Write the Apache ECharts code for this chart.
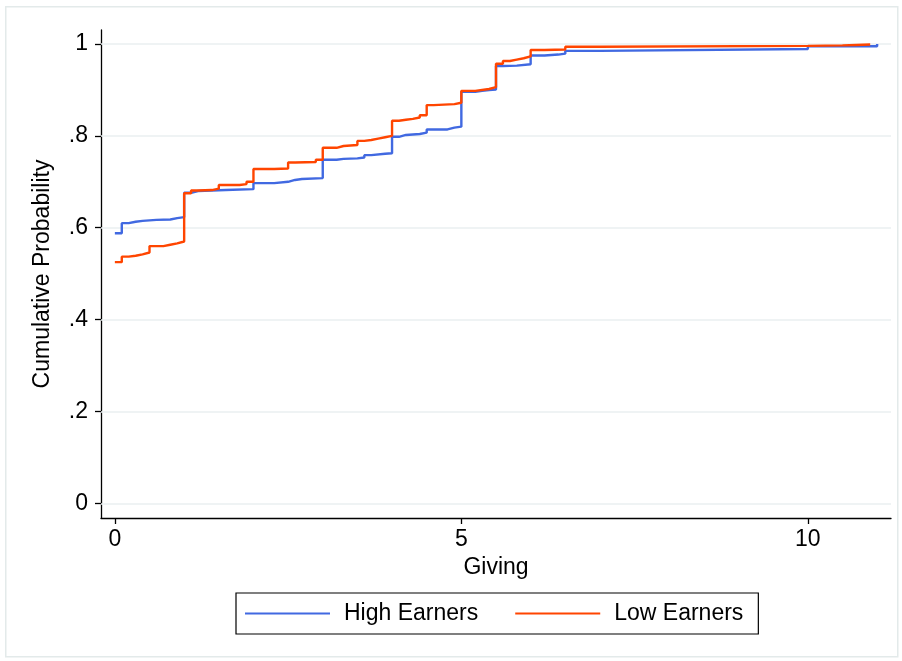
<!DOCTYPE html>
<html>
<head>
<meta charset="utf-8">
<script src="https://cdn.jsdelivr.net/npm/echarts@6/dist/echarts.min.js"></script>
<style>
html,body{margin:0;padding:0;background:#fff;}
#chart{width:902px;height:661px;}
</style>
</head>
<body>
<div id="chart"></div>
<script>
// Step points for the empirical CDFs (x = Giving, y = cumulative probability)
var highX = [0, 0.1, 0.2, 0.3, 0.4, 0.6, 0.8, 0.9, 1.0, 1.1, 1.2, 1.6, 2.0, 2.3, 2.5, 2.6, 2.7, 3.0, 3.2, 3.3, 3.5, 3.6, 3.7, 3.9, 4.0, 4.1, 4.2, 4.4, 4.5, 4.8, 4.9, 5.0, 5.2, 5.3, 5.4, 5.5, 5.6, 5.8, 6.0, 6.2, 6.4, 6.5, 7.0, 10.0, 11.0];
var highY = [0.588, 0.610, 0.613, 0.615, 0.617, 0.618, 0.621, 0.623, 0.676, 0.680, 0.682, 0.684, 0.697, 0.700, 0.704, 0.706, 0.708, 0.748, 0.750, 0.751, 0.753, 0.758, 0.761, 0.762, 0.798, 0.802, 0.804, 0.807, 0.814, 0.818, 0.820, 0.896, 0.898, 0.900, 0.901, 0.952, 0.953, 0.956, 0.975, 0.977, 0.979, 0.985, 0.989, 0.995, 1.0];

var lowX = [0, 0.1, 0.2, 0.3, 0.4, 0.5, 0.7, 0.8, 0.9, 1.0, 1.1, 1.2, 1.4, 1.5, 1.8, 1.9, 2.0, 2.3, 2.5, 2.6, 2.9, 3.0, 3.2, 3.3, 3.5, 3.6, 3.7, 3.8, 3.9, 4.0, 4.1, 4.2, 4.3, 4.4, 4.5, 4.6, 4.9, 5.0, 5.2, 5.4, 5.5, 5.6, 5.7, 5.8, 5.9, 6.0, 6.2, 6.5, 7.0, 10.0, 10.5, 10.7, 10.9];
var lowY = [0.525, 0.537, 0.539, 0.542, 0.546, 0.560, 0.563, 0.566, 0.570, 0.675, 0.681, 0.682, 0.685, 0.693, 0.695, 0.700, 0.728, 0.729, 0.742, 0.743, 0.748, 0.774, 0.778, 0.780, 0.789, 0.791, 0.794, 0.797, 0.800, 0.833, 0.835, 0.837, 0.840, 0.845, 0.867, 0.869, 0.872, 0.898, 0.902, 0.906, 0.957, 0.963, 0.966, 0.969, 0.973, 0.987, 0.988, 0.994, 0.996, 0.997, 0.998, 0.999, 1.0];

var seriesNames = ['High Earners', 'Low Earners'];
var xTicks = [0, 5, 10];
var yTicks = [0, 0.2, 0.4, 0.6, 0.8, 1];
var yTickLabels = ['0', '.2', '.4', '.6', '.8', '1'];

function zip(xs, ys) { return xs.map(function (x, i) { return [x, ys[i]]; }); }

var FONT = 'Liberation Sans, Arial, Helvetica, sans-serif';
var FS = 23;
var chart = echarts.init(document.getElementById('chart'), null, {renderer: 'canvas'});
chart.setOption({
  animation: false,
  backgroundColor: '#fff',
  graphic: [{
    type: 'rect', left: 5, top: 6, silent: true, z: -10,
    shape: {width: 892, height: 650},
    style: {fill: '#fff', stroke: '#e3eaea', lineWidth: 1.5}
  }],
  grid: {left: 101, right: 11, top: 30, bottom: 143, containLabel: false},
  xAxis: {
    type: 'value', min: -0.2, max: 11.2,
    name: 'Giving', nameLocation: 'middle', nameGap: 33,
    nameTextStyle: {color: '#000', fontSize: FS, fontFamily: FONT},
    axisLine: {show: true, onZero: false, lineStyle: {color: '#000', width: 1.3}},
    axisTick: {show: true, length: 6, lineStyle: {color: '#000', width: 1.3},
      customValues: xTicks},
    axisLabel: {color: '#000', fontSize: FS, fontFamily: FONT, margin: 10,
      customValues: xTicks},
    splitLine: {show: false}
  },
  yAxis: {
    type: 'value', min: -0.032, max: 1.0305,
    name: 'Cumulative Probability', nameLocation: 'middle', nameGap: 47, nameRotate: 90,
    nameTextStyle: {color: '#000', fontSize: FS, fontFamily: FONT},
    axisLine: {show: true, onZero: false, lineStyle: {color: '#000', width: 1.3}},
    axisTick: {show: true, length: 6, lineStyle: {color: '#000', width: 1.3},
      customValues: yTicks},
    axisLabel: {color: '#000', fontSize: FS, fontFamily: FONT, margin: 13,
      customValues: yTicks,
      formatter: function (v) {
        for (var i = 0; i < yTicks.length; i++) { if (Math.abs(yTicks[i] - v) < 1e-6) return yTickLabels[i]; }
        return String(v);
      }},
    splitLine: {show: false}
  },
  legend: {
    data: seriesNames,
    icon: 'rect',
    left: 236, top: 593,
    orient: 'horizontal',
    borderColor: '#000', borderWidth: 1.2, borderRadius: 0,
    padding: [9, 15, 9, 9],
    itemWidth: 85, itemHeight: 2, itemGap: 37,
    textStyle: {color: '#000', fontSize: FS, fontFamily: FONT, padding: [0, 0, 0, 9]}
  },
  series: [
    {
      name: 'High Earners', type: 'line', step: 'end', showSymbol: false, symbol: 'none',
      data: zip(highX, highY), z: 3,
      lineStyle: {color: '#4169e1', width: 2.4}, itemStyle: {color: '#4169e1'},
      markLine: {
        silent: true, symbol: 'none', animation: false, z: 1,
        label: {show: false},
        lineStyle: {color: '#eaeff1', width: 1.6, type: 'solid'},
        data: yTicks.map(function (v) { return {yAxis: v}; })
      }
    },
    {
      name: 'Low Earners', type: 'line', step: 'end', showSymbol: false, symbol: 'none',
      data: zip(lowX, lowY), z: 4,
      lineStyle: {color: '#ff4500', width: 2.4}, itemStyle: {color: '#ff4500'}
    }
  ]
});
</script>
</body>
</html>
